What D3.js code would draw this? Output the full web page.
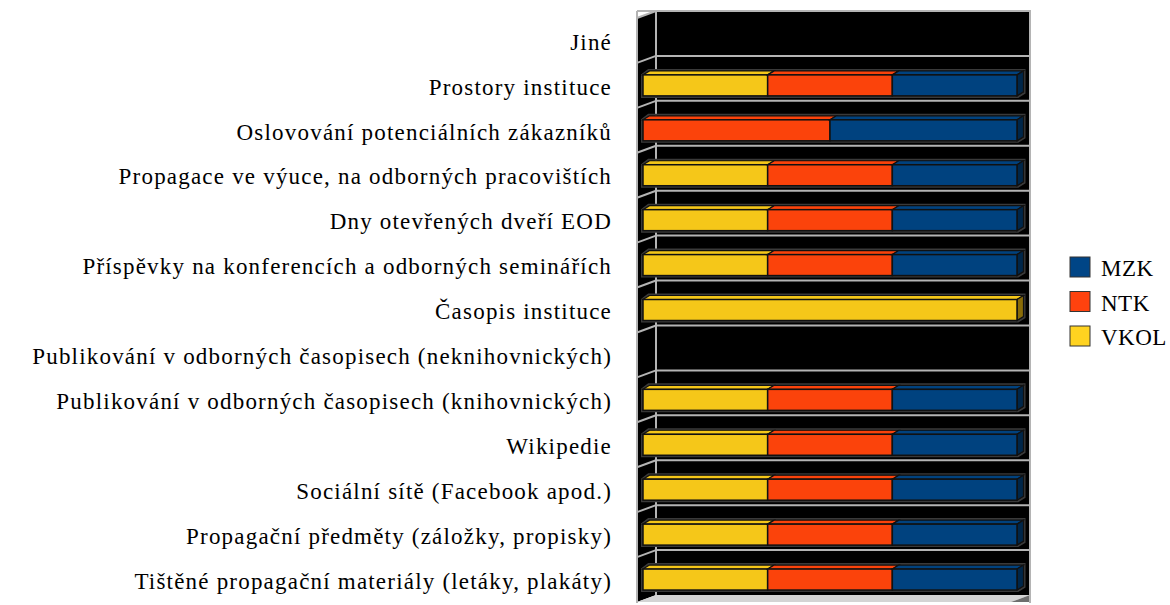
<!DOCTYPE html>
<html>
<head>
<meta charset="utf-8">
<script src="https://cdn.jsdelivr.net/npm/d3@7"></script>
<style>
body { margin: 0; background: #fff; }
</style>
</head>
<body>
<div class="main"></div>
<script>
// categories, top to bottom
var categories = [
  "Jiné",
  "Prostory instituce",
  "Oslovování potenciálních zákazníků",
  "Propagace ve výuce, na odborných pracovištích",
  "Dny otevřených dveří EOD",
  "Příspěvky na konferencích a odborných seminářích",
  "Časopis instituce",
  "Publikování v odborných časopisech (neknihovnických)",
  "Publikování v odborných časopisech (knihovnických)",
  "Wikipedie",
  "Sociální sítě (Facebook apod.)",
  "Propagační předměty (záložky, propisky)",
  "Tištěné propagační materiály (letáky, plakáty)"
];
var seriesNames = ["VKOL", "NTK", "MZK"];
var vkol = [0, 1, 0, 1, 1, 1, 1, 0, 1, 1, 1, 1, 1];
var ntk  = [0, 1, 1, 1, 1, 1, 0, 0, 1, 1, 1, 1, 1];
var mzk  = [0, 1, 1, 1, 1, 1, 0, 0, 1, 1, 1, 1, 1];
var legendOrder = ["MZK", "NTK", "VKOL"];

var serif = "'Liberation Serif', 'DejaVu Serif', serif";
var colors = {VKOL: "#f5c719", NTK: "#fb430b", MZK: "#00427f"};
var sideColors = {VKOL: "#8a6c08", NTK: "#8c2405", MZK: "#002649"};
var legendColors = {VKOL: "#ffd320", NTK: "#ff420e", MZK: "#004586"};

var rows = categories.map(function(c, i) {
  return {name: c, VKOL: vkol[i], NTK: ntk[i], MZK: mzk[i]};
});
var stacked = d3.stack().keys(seriesNames).offset(d3.stackOffsetExpand)(rows);

// 3d box geometry
var back = {x: 656, y: 11, w: 374, h: 584};
var depth = {dx: -19, dy: 7};
var barOff = {dx: -13, dy: 7};     // bar front face relative to back wall
var barDepth = {dx: 6.5, dy: -4};  // bar back relative to bar front

var svg = d3.select(".main").append("svg")
  .attr("width", 1170)
  .attr("height", 605);

var x = d3.scaleLinear().domain([0, 1]).range([back.x + barOff.dx, back.x + barOff.dx + back.w]);
var y = d3.scaleBand().domain(categories)
  .range([back.y + depth.dy, back.y + back.h + depth.dy]);
var barH = 21;

// back wall
svg.append("rect")
  .attr("x", back.x).attr("y", back.y)
  .attr("width", back.w).attr("height", back.h)
  .attr("fill", "#000");
// left wall
svg.append("path")
  .attr("d", "M" + back.x + "," + back.y + "L" + (back.x + depth.dx) + "," + (back.y + depth.dy) +
    "L" + (back.x + depth.dx) + "," + (back.y + back.h + depth.dy) + "L" + back.x + "," + (back.y + back.h) + "Z")
  .attr("fill", "#000");
// floor
svg.append("path")
  .attr("d", "M" + back.x + "," + (back.y + back.h) + "L" + (back.x + back.w) + "," + (back.y + back.h) +
    "L" + (back.x + back.w + depth.dx) + "," + (back.y + back.h + depth.dy) +
    "L" + (back.x + depth.dx) + "," + (back.y + back.h + depth.dy) + "Z")
  .attr("fill", "#d4d4d4");
svg.append("path")
  .attr("d", "M" + (back.x + back.w) + "," + (back.y + back.h) + "L" + (back.x + back.w) + "," + (back.y + back.h + depth.dy) +
    "L" + (back.x + back.w + depth.dx) + "," + (back.y + back.h + depth.dy) + "Z")
  .attr("fill", "#6e6e6e");

// gridlines at band boundaries
var bounds = categories.map(function(c) { return y(c) - depth.dy; });
svg.selectAll(".grid").data(bounds).enter().append("line")
  .attr("class", "grid")
  .attr("x1", back.x).attr("x2", back.x + back.w)
  .attr("y1", function(d) { return d; }).attr("y2", function(d) { return d; })
  .attr("stroke", "#b4b4b4").attr("stroke-width", 2);
svg.selectAll(".gridside").data(bounds).enter().append("line")
  .attr("class", "gridside")
  .attr("x1", back.x + depth.dx).attr("x2", back.x)
  .attr("y1", function(d) { return d + depth.dy; }).attr("y2", function(d) { return d; })
  .attr("stroke", "#b4b4b4").attr("stroke-width", 2);

// wall edges
svg.append("line").attr("x1", back.x).attr("x2", back.x)
  .attr("y1", back.y).attr("y2", back.y + back.h)
  .attr("stroke", "#b4b4b4").attr("stroke-width", 2);
svg.append("line").attr("x1", back.x + depth.dx).attr("x2", back.x + depth.dx)
  .attr("y1", back.y).attr("y2", back.y + back.h + depth.dy + 1)
  .attr("stroke", "#b4b4b4").attr("stroke-width", 2);
svg.append("path")
  .attr("d", "M" + (back.x + depth.dx) + "," + back.y + "H" + (back.x + back.w) + "V" + (back.y + back.h + depth.dy + 1))
  .attr("fill", "none").attr("stroke", "#b4b4b4").attr("stroke-width", 2);

// bars
rows.forEach(function(r, i) {
  var segs = [];
  stacked.forEach(function(s) {
    var v = s[i];
    if (v[1] - v[0] > 0) segs.push({key: s.key, x0: x(v[0]), x1: x(v[1])});
  });
  if (!segs.length) return;
  var yc = y(r.name) + y.bandwidth() / 2;
  var top = yc - barH / 2, bot = yc + barH / 2;
  var g = svg.append("g").attr("class", "bar");
  var xl = segs[0].x0, xr = segs[segs.length - 1].x1;
  // outline shadow
  g.append("path")
    .attr("d", "M" + (xl - 1) + "," + (bot + 1) + "L" + (xl - 1) + "," + top +
      "L" + (xl + barDepth.dx - 1) + "," + (top + barDepth.dy - 1) + "L" + (xr + barDepth.dx + 1) + "," + (top + barDepth.dy - 1) +
      "L" + (xr + barDepth.dx + 1) + "," + (bot + barDepth.dy + 1) + "L" + (xr + 1) + "," + (bot + 1) + "Z")
    .attr("fill", "none").attr("stroke", "#3a3a3a").attr("stroke-width", 2);
  segs.forEach(function(s, j) {
    // top face
    g.append("path")
      .attr("d", "M" + s.x0 + "," + top + "L" + (s.x0 + barDepth.dx) + "," + (top + barDepth.dy) +
        "L" + (s.x1 + barDepth.dx) + "," + (top + barDepth.dy) + "L" + s.x1 + "," + top + "Z")
      .attr("fill", colors[s.key]).attr("stroke", "#111").attr("stroke-width", 1.2);
    // side face on last segment
    if (j === segs.length - 1) {
      g.append("path")
        .attr("d", "M" + s.x1 + "," + top + "L" + (s.x1 + barDepth.dx) + "," + (top + barDepth.dy) +
          "L" + (s.x1 + barDepth.dx) + "," + (bot + barDepth.dy) + "L" + s.x1 + "," + bot + "Z")
        .attr("fill", sideColors[s.key]).attr("stroke", "#111").attr("stroke-width", 1.2);
    }
    g.append("rect")
      .attr("x", s.x0).attr("y", top)
      .attr("width", s.x1 - s.x0).attr("height", barH)
      .attr("fill", colors[s.key]).attr("stroke", "#111").attr("stroke-width", 1.5);
  });
});

// category labels
var yAxis = d3.axisLeft(y).tickSize(0).tickPadding(25);
svg.append("g")
  .attr("class", "axis")
  .attr("transform", "translate(" + (back.x + depth.dx) + ",0)")
  .call(yAxis)
  .call(function(g) { g.select(".domain").remove(); })
  .selectAll("text")
  .attr("dy", "0.4em")
  .style("font-family", serif)
  .style("font-size", "23px")
  .style("letter-spacing", "1.2px")
  .style("fill", "#000");

// legend
var legend = svg.append("g").attr("class", "legend")
  .attr("transform", "translate(1070,257)");
var li = legend.selectAll("g").data(legendOrder).enter().append("g")
  .attr("transform", function(d, i) { return "translate(0," + (i * 34.5) + ")"; });
li.append("rect")
  .attr("width", 20).attr("height", 20)
  .attr("fill", function(d) { return legendColors[d]; })
  .attr("stroke", "#333").attr("stroke-width", 1);
li.append("text")
  .attr("x", 31).attr("y", 19)
  .style("font-family", serif)
  .style("font-size", "23px")
  .style("letter-spacing", "0.5px")
  .style("fill", "#000")
  .text(function(d) { return d; });
</script>
</body>
</html>
